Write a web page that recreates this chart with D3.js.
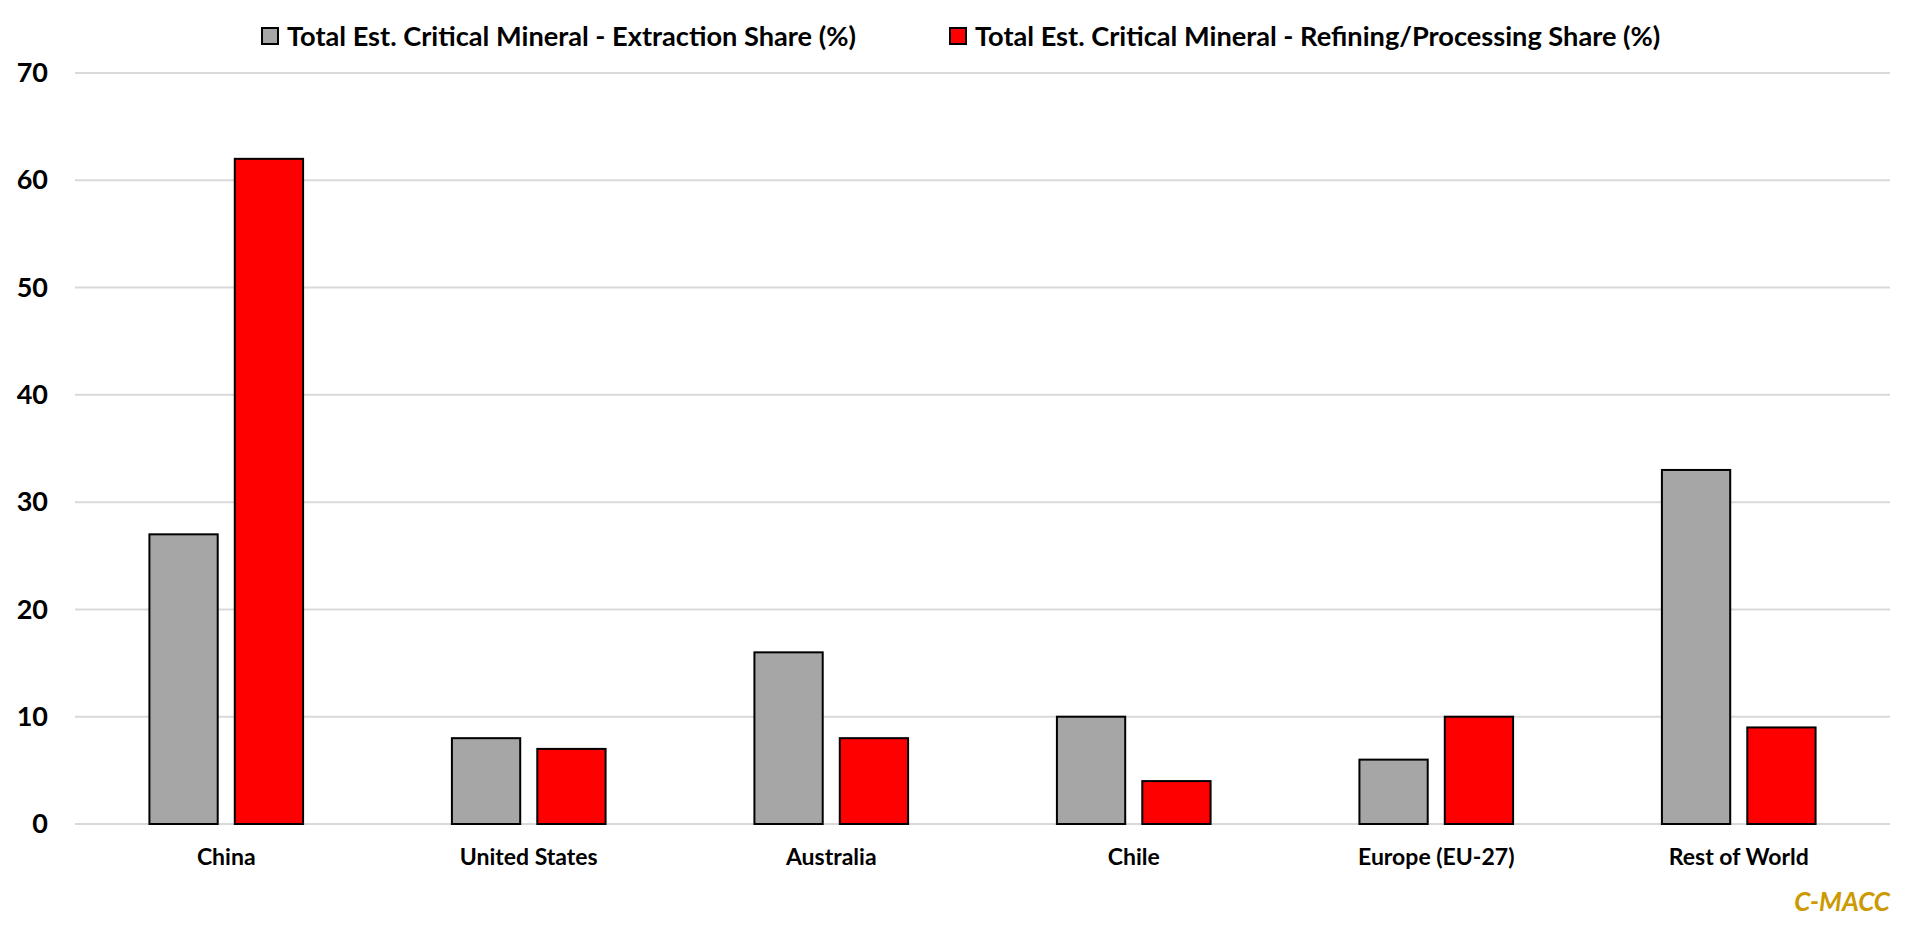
<!DOCTYPE html>
<html>
<head>
<meta charset="utf-8">
<script src="https://cdn.jsdelivr.net/npm/d3@7"></script>
<style>
  html, body { margin: 0; padding: 0; background: #fff; }
  svg { display: block; font-family: Lato, "Open Sans", sans-serif; }
</style>
</head>
<body>
<svg id="chart" width="1912" height="927"></svg>
<script>
// data
var categories = ["China", "United States", "Australia", "Chile", "Europe (EU-27)", "Rest of World"];
var seriesNames = [
  "Total Est. Critical Mineral - Extraction Share (%)",
  "Total Est. Critical Mineral - Refining/Processing Share (%)"
];
var extraction = [27, 8, 16, 10, 6, 33];
var refining = [62, 7, 8, 4, 10, 9];
var yTicks = [0, 10, 20, 30, 40, 50, 60, 70];

var colors = ["#a6a6a6", "#ff0000"];

var svg = d3.select("#chart");
var margin = { left: 75, right: 22, top: 73, bottom: 103 };
var width = 1912, height = 927;

var x = d3.scaleBand()
  .domain(categories)
  .range([margin.left, width - margin.right])
  .paddingInner(0.492)
  .paddingOuter(0.246);

var xs = d3.scaleBand()
  .domain([0, 1])
  .range([0, x.bandwidth()])
  .paddingInner(0.2);

var y = d3.scaleLinear()
  .domain([0, 70])
  .range([height - margin.bottom, margin.top]);

// gridlines
svg.append("g")
  .selectAll("line")
  .data(yTicks)
  .join("line")
  .attr("x1", margin.left)
  .attr("x2", width - margin.right)
  .attr("y1", function(d) { return y(d); })
  .attr("y2", function(d) { return y(d); })
  .attr("stroke", "#d9d9d9")
  .attr("stroke-width", 2);

// y axis labels
var yAxis = svg.append("g")
  .attr("transform", "translate(" + 48 + ",0)")
  .call(d3.axisLeft(y).tickValues(yTicks).tickSize(0).tickPadding(0));
yAxis.select(".domain").remove();
yAxis.selectAll("text")
  .attr("font-family", "Lato, sans-serif")
  .attr("font-size", 27)
  .attr("font-weight", "bold")
  .attr("fill", "#000");

// bars
var rows = categories.map(function(c, i) {
  return { cat: c, vals: [extraction[i], refining[i]] };
});

var groups = svg.append("g")
  .selectAll("g")
  .data(rows)
  .join("g")
  .attr("transform", function(d) { return "translate(" + x(d.cat) + ",0)"; });

groups.selectAll("rect")
  .data(function(d) { return d.vals.map(function(v, k) { return { k: k, v: v }; }); })
  .join("rect")
  .attr("x", function(d) { return xs(d.k); })
  .attr("width", xs.bandwidth())
  .attr("y", function(d) { return y(d.v); })
  .attr("height", function(d) { return y(0) - y(d.v); })
  .attr("fill", function(d) { return colors[d.k]; })
  .attr("stroke", "#000")
  .attr("stroke-width", 2);

// category labels
var xAxis = svg.append("g")
  .attr("transform", "translate(0," + (y(0) + 33) + ")")
  .call(d3.axisBottom(x).tickSize(0).tickPadding(0));
xAxis.select(".domain").remove();
xAxis.selectAll("text")
  .attr("dy", "0.35em")
  .attr("font-family", "Lato, sans-serif")
  .attr("font-size", 23)
  .attr("font-weight", "bold")
  .attr("fill", "#000");

// legend
var legendX = [262, 950];
var legend = svg.append("g")
  .selectAll("g")
  .data(seriesNames)
  .join("g")
  .attr("transform", function(d, i) { return "translate(" + legendX[i] + ",28)"; });

legend.append("rect")
  .attr("width", 16)
  .attr("height", 16)
  .attr("fill", function(d, i) { return colors[i]; })
  .attr("stroke", "#000")
  .attr("stroke-width", 2);

legend.append("text")
  .attr("x", 25)
  .attr("y", 8)
  .attr("dy", "0.35em")
  .attr("font-size", 27.2)
  .attr("font-weight", "bold")
  .attr("fill", "#000")
  .text(function(d) { return d; });

// source tag
svg.append("text")
  .attr("x", width - margin.right)
  .attr("y", 902)
  .attr("dy", "0.35em")
  .attr("text-anchor", "end")
  .attr("font-size", 26)
  .attr("font-weight", "bold")
  .attr("font-style", "italic")
  .attr("fill", "#cc9900")
  .text("C-MACC");
</script>
</body>
</html>
